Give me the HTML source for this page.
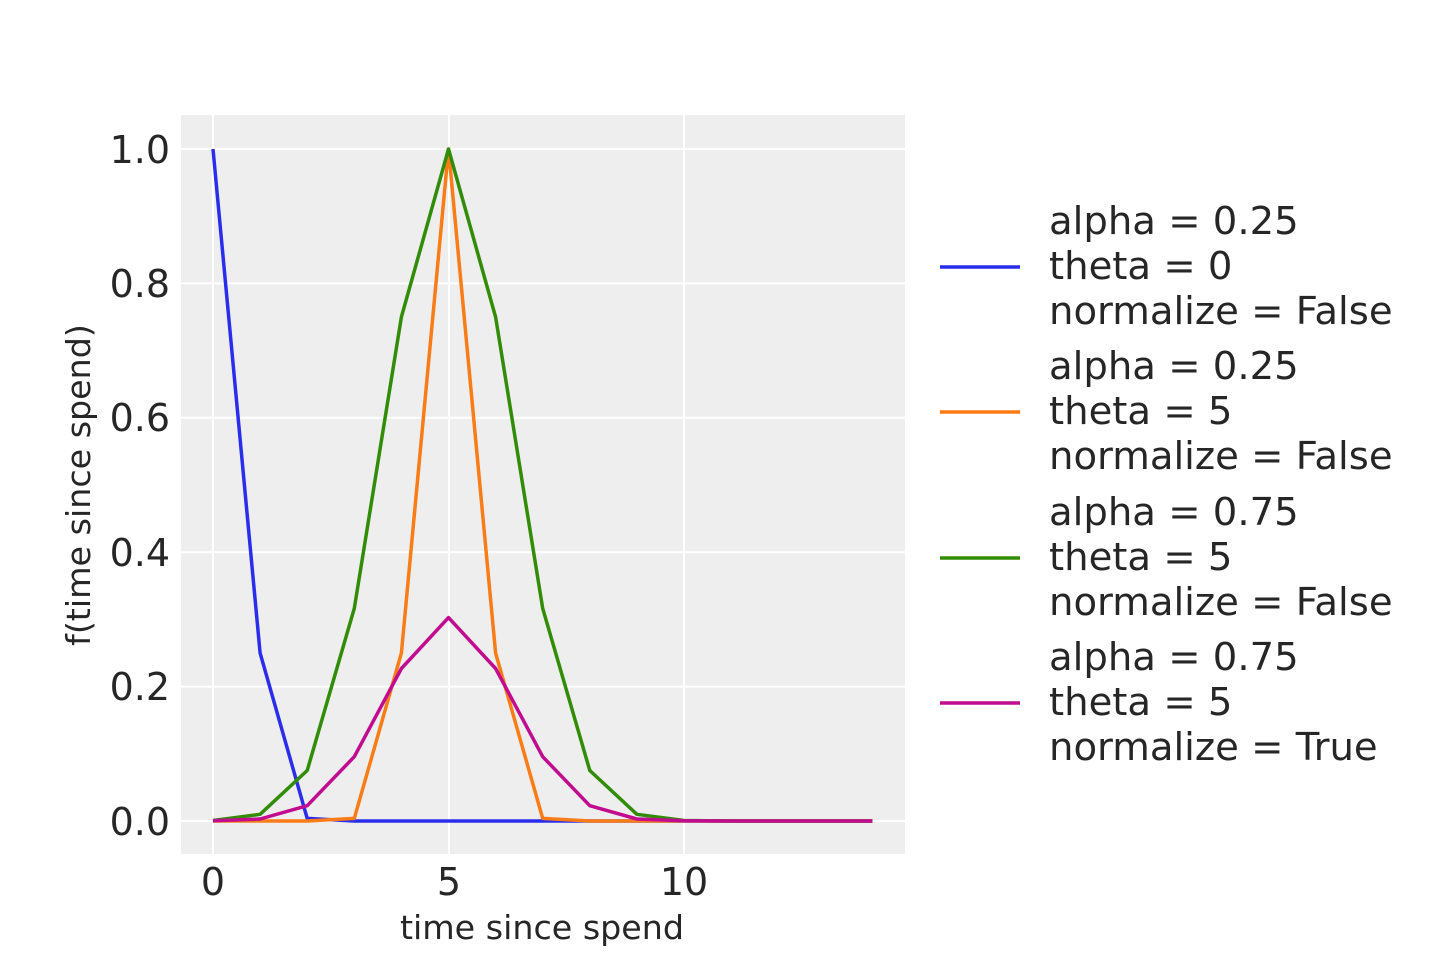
<!DOCTYPE html>
<html><head><meta charset="utf-8"><style>
body{margin:0;background:#fff;}
svg{display:block;font-family:"DejaVu Sans","Liberation Sans",sans-serif;}
</style></head><body>
<svg id="s" width="1440" height="960" xmlns="http://www.w3.org/2000/svg">
<rect x="181" y="115" width="724" height="739" fill="#eeeeee"/>
<g stroke="#fff" stroke-width="2">
<line x1="213" y1="115" x2="213" y2="854"/><line x1="449" y1="115" x2="449" y2="854"/><line x1="684" y1="115" x2="684" y2="854"/>
<line x1="181" y1="821" x2="905" y2="821"/><line x1="181" y1="686.6" x2="905" y2="686.6"/><line x1="181" y1="552.2" x2="905" y2="552.2"/><line x1="181" y1="417.8" x2="905" y2="417.8"/><line x1="181" y1="283.4" x2="905" y2="283.4"/><line x1="181" y1="149" x2="905" y2="149"/>
</g>
<g fill="#262626" font-size="38" text-anchor="end">
<text x="170" y="835">0.0</text><text x="170" y="700">0.2</text><text x="170" y="566">0.4</text><text x="170" y="431">0.6</text><text x="170" y="297">0.8</text><text x="170" y="163">1.0</text>
</g>
<g fill="#262626" font-size="38" text-anchor="middle">
<text x="213" y="895">0</text><text x="449" y="895">5</text><text x="684" y="895">10</text>
</g>
<text x="542" y="939" font-size="33.3" fill="#262626" text-anchor="middle">time since spend</text>
<text transform="translate(90,485) rotate(-90)" font-size="33.3" fill="#262626" text-anchor="middle">f(time since spend)</text>
<g id="series" fill="none" stroke-width="3.5" stroke-linejoin="round"></g>
<g stroke-width="3.5">
<line x1="940" y1="267" x2="1020" y2="267" stroke="#2a2eec"/>
<line x1="940" y1="412" x2="1020" y2="412" stroke="#fa7c17"/>
<line x1="940" y1="558" x2="1020" y2="558" stroke="#328c06"/>
<line x1="940" y1="703" x2="1020" y2="703" stroke="#c10c90"/>
</g>
<g fill="#262626" font-size="38.6">
<text x="1049" y="234">alpha = 0.25</text><text x="1049" y="279">theta = 0</text><text x="1049" y="324">normalize = False</text>
<text x="1049" y="379">alpha = 0.25</text><text x="1049" y="424">theta = 5</text><text x="1049" y="469">normalize = False</text>
<text x="1049" y="525">alpha = 0.75</text><text x="1049" y="570">theta = 5</text><text x="1049" y="615">normalize = False</text>
<text x="1049" y="670">alpha = 0.75</text><text x="1049" y="715">theta = 5</text><text x="1049" y="760">normalize = True</text>
</g>
</svg>
<script>
var g=document.getElementById('series');
function f(a,t,n){var v=[];for(var x=0;x<15;x++)v.push(Math.pow(a,(x-t)*(x-t)));if(n){var s=v.reduce((p,c)=>p+c,0);v=v.map(e=>e/s);}return v;}
var S=[[0.25,0,0,'#2a2eec'],[0.25,5,0,'#fa7c17'],[0.75,5,0,'#328c06'],[0.75,5,1,'#c10c90']];
S.forEach(function(s){var v=f(s[0],s[1],s[2]);var p=v.map((y,x)=>(213+47.1*x).toFixed(1)+','+(821-672*y).toFixed(1)).join(' ');
var e=document.createElementNS('http://www.w3.org/2000/svg','polyline');e.setAttribute('points',p);e.setAttribute('stroke',s[3]);g.appendChild(e);});
</script>
</body></html>
